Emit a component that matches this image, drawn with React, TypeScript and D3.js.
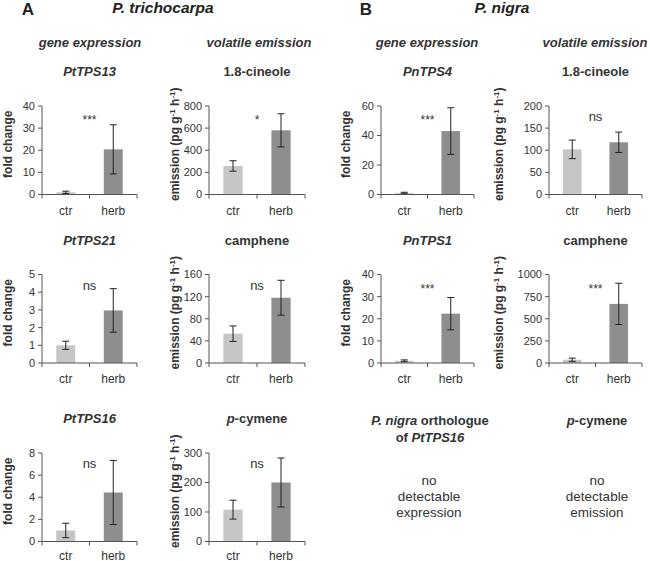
import React from "react";
import * as d3 from "d3";

const categories = ["ctr", "herb"];

const ptTPS13Mean = [1.0, 20.4];
const ptTPS13Err = [0.5, 11.1];
const ptCineoleMean = [258, 580];
const ptCineoleErr = [47, 150];
const pnTPS4Mean = [1.0, 43.0];
const pnTPS4Err = [0.5, 15.8];
const pnCineoleMean = [102, 118];
const pnCineoleErr = [21, 23];

const ptTPS21Mean = [1.0, 2.97];
const ptTPS21Err = [0.23, 1.23];
const ptCampheneMean = [53, 118];
const ptCampheneErr = [14, 31.5];
const pnTPS1Mean = [1.0, 22.3];
const pnTPS1Err = [0.4, 7.3];
const pnCampheneMean = [37, 668];
const pnCampheneErr = [18, 233];

const ptTPS16Mean = [1.0, 4.43];
const ptTPS16Err = [0.65, 2.9];
const ptCymeneMean = [108, 200];
const ptCymeneErr = [32, 83];

const FONT = "'Liberation Sans', Arial, Helvetica, sans-serif";
const TXT = "#333";
const AX = "#555";
const COLORS = ["#c6c6c6", "#8e8e8e"];

const colX = [42, 209, 381, 549];
const colW = [95, 96, 93, 93];
const colLabelOff = [30, 30, 31, 46];
const rowTop = [106, 274.5, 453];
const plotH = 88.5;

type Panel = {
  row: number;
  col: number;
  title: React.ReactNode;
  mean: number[];
  err: number[];
  max: number;
  step: number;
  sig: string;
  kind: "fold" | "emission";
};

const it = (s: string) => <tspan fontStyle="italic">{s}</tspan>;

const panels: Panel[] = [
  { row: 0, col: 0, title: it("PtTPS13"), mean: ptTPS13Mean, err: ptTPS13Err, max: 40, step: 10, sig: "***", kind: "fold" },
  { row: 0, col: 1, title: "1.8-cineole", mean: ptCineoleMean, err: ptCineoleErr, max: 800, step: 200, sig: "*", kind: "emission" },
  { row: 0, col: 2, title: it("PnTPS4"), mean: pnTPS4Mean, err: pnTPS4Err, max: 60, step: 20, sig: "***", kind: "fold" },
  { row: 0, col: 3, title: "1.8-cineole", mean: pnCineoleMean, err: pnCineoleErr, max: 200, step: 50, sig: "ns", kind: "emission" },
  { row: 1, col: 0, title: it("PtTPS21"), mean: ptTPS21Mean, err: ptTPS21Err, max: 5, step: 1, sig: "ns", kind: "fold" },
  { row: 1, col: 1, title: "camphene", mean: ptCampheneMean, err: ptCampheneErr, max: 160, step: 40, sig: "ns", kind: "emission" },
  { row: 1, col: 2, title: it("PnTPS1"), mean: pnTPS1Mean, err: pnTPS1Err, max: 40, step: 10, sig: "***", kind: "fold" },
  { row: 1, col: 3, title: "camphene", mean: pnCampheneMean, err: pnCampheneErr, max: 1000, step: 250, sig: "***", kind: "emission" },
  { row: 2, col: 0, title: it("PtTPS16"), mean: ptTPS16Mean, err: ptTPS16Err, max: 8, step: 2, sig: "ns", kind: "fold" },
  { row: 2, col: 1, title: <>{it("p")}-cymene</>, mean: ptCymeneMean, err: ptCymeneErr, max: 300, step: 100, sig: "ns", kind: "emission" },
];

function BarPanel({ p }: { p: Panel }) {
  const x0 = colX[p.col];
  const w = colW[p.col];
  const top = rowTop[p.row];
  const bottom = top + plotH;
  const y = d3.scaleLinear().domain([0, p.max]).range([bottom, top]);
  const x = d3.scaleBand<string>().domain(categories).range([x0, x0 + w]).paddingInner(0.6).paddingOuter(0.3);
  const ticks = d3.range(0, p.max + p.step / 2, p.step);
  const cx = x0 + w / 2;
  const labX = x0 - colLabelOff[p.col];
  const labY = (top + bottom) / 2 - 6;
  const boundaries = [x0, x0 + w / 2, x0 + w];
  const catY = Math.min(bottom + 20, 559.5);
  return (
    <g>
      <text x={cx} y={top - 30} textAnchor="middle" fontSize={13} fontWeight="bold" fill={TXT}>
        {p.title}
      </text>
      {categories.map((c, i) => {
        const bx = x(c)!;
        const bw = x.bandwidth();
        const m = p.mean[i];
        const e = p.err[i];
        const mx = bx + bw / 2;
        return (
          <g key={c}>
            <rect x={bx} y={y(m)} width={bw} height={bottom - y(m)} fill={COLORS[i]} />
            <line x1={mx} x2={mx} y1={y(m + e)} y2={y(Math.max(0, m - e))} stroke="#222" strokeWidth={1} />
            <line x1={mx - 3.5} x2={mx + 3.5} y1={y(m + e)} y2={y(m + e)} stroke="#222" strokeWidth={1} />
            <line x1={mx - 3.5} x2={mx + 3.5} y1={y(Math.max(0, m - e))} y2={y(Math.max(0, m - e))} stroke="#222" strokeWidth={1} />
            <text x={(boundaries[i] + boundaries[i + 1]) / 2} y={catY} textAnchor="middle" fontSize={12} fill={TXT}>
              {c}
            </text>
          </g>
        );
      })}
      <line x1={x0} x2={x0} y1={top} y2={bottom} stroke={AX} />
      {ticks.map((t) => (
        <g key={t}>
          <line x1={x0 - 4} x2={x0} y1={y(t)} y2={y(t)} stroke={AX} />
          <text x={x0 - 7} y={y(t)} dy="0.36em" textAnchor="end" fontSize={11} fill={TXT}>
            {t}
          </text>
        </g>
      ))}
      <line x1={x0} x2={x0 + w} y1={bottom} y2={bottom} stroke={AX} />
      {boundaries.map((b, i) => (
        <line key={i} x1={b} x2={b} y1={bottom} y2={bottom + 4} stroke={AX} />
      ))}
      {p.sig === "ns" ? (
        <text x={cx} y={top + 15} textAnchor="middle" fontSize={13} fill={TXT}>
          ns
        </text>
      ) : (
        <text x={cx} y={top + 18} textAnchor="middle" fontSize={12} fill={TXT}>
          {p.sig}
        </text>
      )}
      <text
        transform={`translate(${labX},${labY}) rotate(-90)`}
        textAnchor="middle"
        fontSize={12}
        fontWeight="bold"
        fill={TXT}
      >
        {p.kind === "fold" ? (
          "fold change"
        ) : (
          <>
            emission (pg g
            <tspan dy={-4} fontSize={8}>-1</tspan>
            <tspan dy={4}> h</tspan>
            <tspan dy={-4} fontSize={8}>-1</tspan>
            <tspan dy={4}>)</tspan>
          </>
        )}
      </text>
    </g>
  );
}

export default function App() {
  return (
    <svg
      width={650}
      height={561}
      style={{ position: "absolute", left: 0, top: 0, background: "#fff" }}
      fontFamily={FONT}
    >
      <rect width={650} height={561} fill="#fff" />
      <text x={28} y={14.5} textAnchor="middle" fontSize={17} fontWeight="bold" fill="#222">A</text>
      <text x={163} y={13} textAnchor="middle" fontSize={15.5} fontWeight="bold" fontStyle="italic" fill="#222">P. trichocarpa</text>
      <text x={366} y={14.5} textAnchor="middle" fontSize={17} fontWeight="bold" fill="#222">B</text>
      <text x={502} y={13} textAnchor="middle" fontSize={15.5} fontWeight="bold" fontStyle="italic" fill="#222">P. nigra</text>
      {[90, 259, 427, 595].map((cx, i) => (
        <text key={i} x={cx} y={46.5} textAnchor="middle" fontSize={13} fontWeight="bold" fontStyle="italic" fill={TXT}>
          {i % 2 === 0 ? "gene expression" : "volatile emission"}
        </text>
      ))}
      {panels.map((p, i) => (
        <BarPanel key={i} p={p} />
      ))}
      <text x={430} y={424.5} textAnchor="middle" fontSize={13} fontWeight="bold" fill={TXT}>
        <tspan fontStyle="italic">P. nigra</tspan> orthologue
      </text>
      <text x={430} y={441.5} textAnchor="middle" fontSize={13} fontWeight="bold" fill={TXT}>
        of <tspan fontStyle="italic">PtTPS16</tspan>
      </text>
      <text x={597} y={424.5} textAnchor="middle" fontSize={13} fontWeight="bold" fill={TXT}>
        <tspan fontStyle="italic">p</tspan>-cymene
      </text>
      {["no", "detectable", "expression"].map((s, i) => (
        <text key={s} x={429} y={484.5 + i * 16} textAnchor="middle" fontSize={13.5} fill={TXT}>{s}</text>
      ))}
      {["no", "detectable", "emission"].map((s, i) => (
        <text key={s} x={597} y={484.5 + i * 16} textAnchor="middle" fontSize={13.5} fill={TXT}>{s}</text>
      ))}
    </svg>
  );
}
